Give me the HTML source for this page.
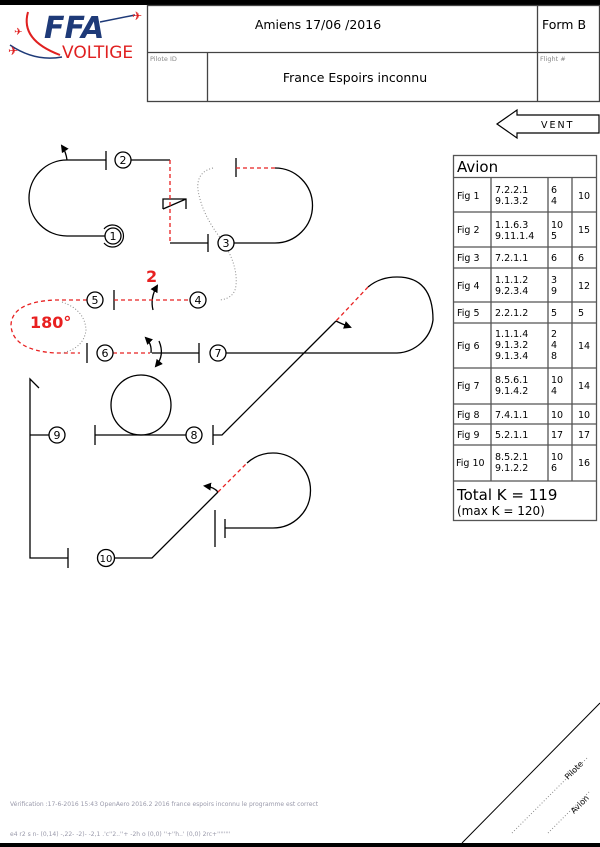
<!DOCTYPE html>
<html><head><meta charset="utf-8"><style>
body{margin:0;background:#fff;width:600px;height:847px;overflow:hidden}
svg{display:block}
text{font-family:"DejaVu Sans","Liberation Sans",sans-serif}
</style></head><body>
<svg width="600" height="847" viewBox="0 0 600 847" xmlns="http://www.w3.org/2000/svg">
<rect x="0" y="0" width="600" height="5" fill="#000"/>
<rect x="0" y="843" width="600" height="4" fill="#000"/>
<!-- logo -->
<text x="44" y="38" font-size="30" font-weight="bold" font-style="italic" fill="#1e3a78" font-family="Liberation Sans">FFA</text>
<text x="62" y="58" font-size="17" fill="#e02020" font-family="Liberation Sans">VOLTIGE</text>
<path d="M28 12 Q20 40 60 55" stroke="#e02020" stroke-width="2" fill="none"/>
<path d="M10 45 Q35 62 62 57" stroke="#1e3a78" stroke-width="1.5" fill="none"/>
<path d="M100 22 L135 15" stroke="#1e3a78" stroke-width="1.5"/>
<text x="132" y="20" font-size="12" fill="#e02020">✈</text>
<text x="14" y="35" font-size="10" fill="#e02020">✈</text>
<text x="8" y="55" font-size="12" fill="#e02020">✈</text>
<!-- header -->
<g stroke="#444" stroke-width="1.3" fill="none">
<rect x="147.5" y="5.5" width="452" height="96"/>
<line x1="147" y1="52.5" x2="600" y2="52.5"/>
<line x1="207.5" y1="52" x2="207.5" y2="101"/>
<line x1="537.5" y1="5" x2="537.5" y2="101"/>
</g>
<text x="318" y="29" font-size="12.5" text-anchor="middle">Amiens 17/06 /2016</text>
<text x="542" y="29" font-size="12.5">Form B</text>
<text x="150" y="61" font-size="6.5" fill="#888">Pilote ID</text>
<text x="540" y="61" font-size="6.5" fill="#888">Flight #</text>
<text x="355" y="82" font-size="12.5" text-anchor="middle">France Espoirs inconnu</text>
<!-- VENT -->
<path d="M497 124 L517 110 L517 115 L599 115 L599 133 L517 133 L517 138 Z" fill="#fff" stroke="#000" stroke-width="1.2"/>
<text x="541" y="128" font-size="9.5" letter-spacing="2">VENT</text>
<!-- table -->
<g stroke="#555" stroke-width="1.3" fill="none">
<rect x="453.5" y="155.5" width="143" height="365"/>
<line x1="453" y1="177.5" x2="597" y2="177.5"/>
<line x1="453" y1="212" x2="597" y2="212"/>
<line x1="453" y1="247" x2="597" y2="247"/>
<line x1="453" y1="268" x2="597" y2="268"/>
<line x1="453" y1="302" x2="597" y2="302"/>
<line x1="453" y1="323" x2="597" y2="323"/>
<line x1="453" y1="368" x2="597" y2="368"/>
<line x1="453" y1="404" x2="597" y2="404"/>
<line x1="453" y1="424" x2="597" y2="424"/>
<line x1="453" y1="445" x2="597" y2="445"/>
<line x1="453" y1="481" x2="597" y2="481"/>
<line x1="491" y1="177" x2="491" y2="481"/>
<line x1="548" y1="177" x2="548" y2="481"/>
<line x1="572" y1="177" x2="572" y2="481"/>
</g>
<text x="457" y="172" font-size="15">Avion</text>
<g font-size="9.5">
<text x="457" y="199">Fig 1</text><text x="495" y="193">7.2.2.1</text><text x="495" y="204">9.1.3.2</text><text x="551" y="193">6</text><text x="551" y="204">4</text><text x="578" y="199">10</text>
<text x="457" y="233">Fig 2</text><text x="495" y="228">1.1.6.3</text><text x="495" y="239">9.11.1.4</text><text x="551" y="228">10</text><text x="551" y="239">5</text><text x="578" y="233">15</text>
<text x="457" y="261">Fig 3</text><text x="495" y="261">7.2.1.1</text><text x="551" y="261">6</text><text x="578" y="261">6</text>
<text x="457" y="289">Fig 4</text><text x="495" y="283">1.1.1.2</text><text x="495" y="294">9.2.3.4</text><text x="551" y="283">3</text><text x="551" y="294">9</text><text x="578" y="289">12</text>
<text x="457" y="316">Fig 5</text><text x="495" y="316">2.2.1.2</text><text x="551" y="316">5</text><text x="578" y="316">5</text>
<text x="457" y="349">Fig 6</text><text x="495" y="337">1.1.1.4</text><text x="495" y="348">9.1.3.2</text><text x="495" y="359">9.1.3.4</text><text x="551" y="337">2</text><text x="551" y="348">4</text><text x="551" y="359">8</text><text x="578" y="349">14</text>
<text x="457" y="389">Fig 7</text><text x="495" y="383">8.5.6.1</text><text x="495" y="394">9.1.4.2</text><text x="551" y="383">10</text><text x="551" y="394">4</text><text x="578" y="389">14</text>
<text x="457" y="418">Fig 8</text><text x="495" y="418">7.4.1.1</text><text x="551" y="418">10</text><text x="578" y="418">10</text>
<text x="457" y="438">Fig 9</text><text x="495" y="438">5.2.1.1</text><text x="551" y="438">17</text><text x="578" y="438">17</text>
<text x="456" y="466">Fig 10</text><text x="495" y="460">8.5.2.1</text><text x="495" y="471">9.1.2.2</text><text x="551" y="460">10</text><text x="551" y="471">6</text><text x="578" y="466">16</text>
</g>
<text x="457" y="500" font-size="15">Total K = 119</text>
<text x="457" y="515" font-size="12">(max K = 120)</text>
<!-- figures -->
<defs><marker id="ah" markerWidth="8" markerHeight="8" refX="6" refY="4" orient="auto" markerUnits="userSpaceOnUse"><path d="M0 0 L8 4 L0 8 Z" fill="#000"/></marker></defs>
<g stroke="#000" stroke-width="1.3" fill="none">
<path d="M106 160 L67 160 A38 38 0 0 0 67 236 L105 236"/>
<line x1="106" y1="151" x2="106" y2="170"/>
<path d="M67 160 Q66 152 62 146" marker-end="url(#ah)"/>
<line x1="131" y1="160" x2="170" y2="160"/>
<path d="M170 243 L208 243"/>
<line x1="208" y1="234" x2="208" y2="252"/>
<path d="M163 209 L163 199 L186 199 L186 209 M163 209 L186 199"/>
<path d="M234 243 L275 243 A37.5 37.5 0 0 0 275 168"/>
<line x1="236" y1="158" x2="236" y2="177"/>
<line x1="114" y1="290" x2="114" y2="310"/>
<path d="M153 310 Q150 298 157 286" marker-end="url(#ah)"/>
<line x1="87" y1="343" x2="87" y2="363"/>
<path d="M152 353 L199 353"/>
<line x1="199" y1="343" x2="199" y2="363"/>
<path d="M151 353 Q152 344 146 338" marker-end="url(#ah)"/>
<path d="M159 341 Q165 355 156 366" marker-end="url(#ah)"/>
<path d="M226 353 L397 353 A38 38 0 0 0 433 320 Q433 277 397 277 Q380 277 368 287"/>
<path d="M336 321 L222 435 L213 435"/>
<line x1="213" y1="425" x2="213" y2="445"/>
<path d="M336 321 Q342 324 350 327" marker-end="url(#ah)"/>
<line x1="95" y1="435" x2="186" y2="435"/>
<line x1="95" y1="425" x2="95" y2="445"/>
<circle cx="141" cy="405" r="30"/>
<path d="M39 388 L30 379 L30 558 L68 558"/>
<line x1="30" y1="435" x2="49" y2="435"/>
<line x1="68" y1="548" x2="68" y2="568"/>
<path d="M114 558 L152 558 L218 492"/>
<path d="M247 463 Q258 453 273 453 A37.5 37.5 0 0 1 273 528 L225 528"/>
<line x1="225" y1="519" x2="225" y2="538"/>
<line x1="215" y1="510" x2="215" y2="547"/>
<path d="M218 492 Q214 487 205 486" marker-end="url(#ah)"/>
</g>
<g stroke="#e82020" stroke-width="1.3" fill="none" stroke-dasharray="4,3">
<path d="M170 160 L170 243"/>
<path d="M236 168 L275 168"/>
<path d="M114 300 L190 300"/>
<path d="M87 300 L55 300 Q12 302 11 325 Q12 350 55 353 L80 353"/>
<path d="M113 353 L150 353"/>
<path d="M368 287 L336 321"/>
<path d="M218 492 L247 463"/>
</g>
<g stroke="#888" stroke-width="1" fill="none" stroke-dasharray="1,2">
<path d="M213 168 Q196 172 198 190 Q202 215 222 240 Q238 265 236 285 Q235 298 220 300"/>
<path d="M62 302 Q85 310 86 330 Q84 348 62 353"/>
<line x1="512" y1="833" x2="588" y2="757"/>
<line x1="548" y1="833" x2="590" y2="791"/>
</g>
<line x1="462" y1="843" x2="600" y2="703" stroke="#000" stroke-width="1"/>
<text x="30" y="328" font-size="16" font-weight="bold" fill="#e82020" font-family="Liberation Sans">180°</text>
<text x="146" y="282" font-size="16" font-weight="bold" fill="#e82020" font-family="Liberation Sans">2</text>
<g stroke="#000" stroke-width="1.3" fill="#fff">
<circle cx="113" cy="236" r="8"/>
<circle cx="123" cy="160" r="8"/>
<circle cx="226" cy="243" r="8"/>
<circle cx="198" cy="300" r="8"/>
<circle cx="95" cy="300" r="8"/>
<circle cx="105" cy="353" r="8"/>
<circle cx="218" cy="353" r="8"/>
<circle cx="194" cy="435" r="8"/>
<circle cx="57" cy="435" r="8"/>
<circle cx="106" cy="558" r="8.5"/>
</g>
<path d="M104 243 A11 11 0 1 0 104 229" stroke="#000" stroke-width="1.2" fill="none"/>
<g font-size="11" text-anchor="middle">
<text x="113" y="240">1</text><text x="123" y="164">2</text><text x="226" y="247">3</text>
<text x="198" y="304">4</text><text x="95" y="304">5</text><text x="105" y="357">6</text>
<text x="218" y="357">7</text><text x="194" y="439">8</text><text x="57" y="439">9</text>
<text x="106" y="562" font-size="10">10</text>
</g>
<text x="10" y="806" font-size="6" fill="#99a" font-family="Liberation Mono">Vérification :17-6-2016 15:43 OpenAero 2016.2 2016 france espoirs inconnu le programme est correct</text>
<text x="10" y="836" font-size="6" fill="#99a" font-family="Liberation Mono">e4 r2 s n- (0,14) -,22- -2)- -2,1 .'c''2..''+ -2h o (0,0) ''+''h..' (0,0) 2rc+''''''''</text>
<text x="568" y="780" font-size="8" fill="#000" transform="rotate(-45 568 780)">Pilote</text>
<text x="574" y="814" font-size="8" fill="#000" transform="rotate(-45 574 814)">Avion</text>
</svg>
</body></html>
